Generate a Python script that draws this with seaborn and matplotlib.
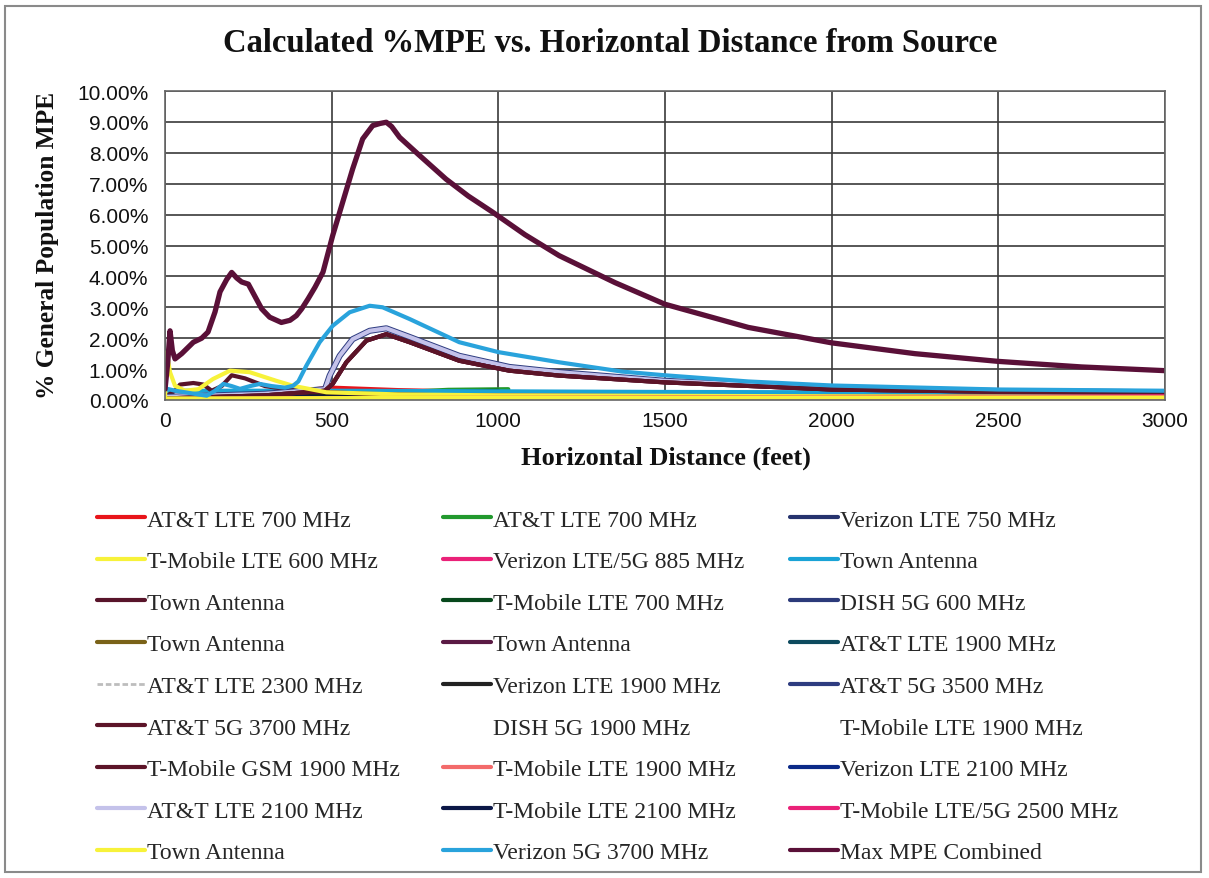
import matplotlib
matplotlib.use("Agg")
import matplotlib.pyplot as plt
import matplotlib.patches as patches
from matplotlib.lines import Line2D
from matplotlib.ticker import FuncFormatter, MultipleLocator
import seaborn as sns

# ── DATA (values in % of general population MPE) ─────────────
base_x = [0, 500, 1000, 1500, 2000, 2500, 3000]

max_x = [0, 8, 15, 22, 30, 50, 85, 110, 129, 150, 165, 185, 200, 215, 230, 250,
         270, 290, 314, 349, 375, 394, 410, 429, 450, 474, 503, 533, 563, 593,
         623, 645, 664, 680, 704, 760, 843, 910, 983, 1080, 1183, 1350, 1500,
         1750, 2000, 2250, 2500, 2750, 3000]
max_y = [0.35, 1.2, 2.24, 1.6, 1.33, 1.5, 1.87, 2.0, 2.2, 2.85, 3.5, 3.9, 4.13,
         3.95, 3.82, 3.75, 3.35, 2.95, 2.68, 2.51, 2.58, 2.73, 2.95, 3.27, 3.65,
         4.14, 5.32, 6.4, 7.48, 8.45, 8.88, 8.95, 8.99, 8.85, 8.5, 7.95, 7.15,
         6.6, 6.08, 5.35, 4.67, 3.8, 3.1, 2.35, 1.85, 1.5, 1.25, 1.07, 0.95]

vz5g_x = [0, 30, 60, 100, 125, 150, 175, 200, 225, 255, 284, 320, 360, 384, 400,
          424, 464, 503, 554, 614, 653, 734, 883, 1000, 1183, 1371, 1500, 1750,
          2000, 2500, 3000]
vz5g_y = [0.38, 0.3, 0.25, 0.18, 0.14, 0.3, 0.52, 0.45, 0.36, 0.45, 0.52, 0.45,
          0.4, 0.46, 0.6, 1.11, 1.87, 2.4, 2.84, 3.05, 3.0, 2.62, 1.87, 1.55,
          1.22, 0.92, 0.8, 0.6, 0.47, 0.34, 0.3]

att2100_x = [0, 300, 480, 494, 524, 563, 614, 664, 734, 883, 1033, 1183, 1500,
             2000, 2500, 3000]
att2100_y = [0.1, 0.2, 0.35, 0.79, 1.43, 1.97, 2.24, 2.32, 2.04, 1.43, 1.07,
             0.9, 0.62, 0.38, 0.29, 0.25]

att3700_x = [0, 300, 480, 503, 544, 604, 664, 734, 883, 1033, 1183, 1500, 2000,
             2500, 3000]
att3700_y = [0.05, 0.15, 0.3, 0.52, 1.22, 1.92, 2.13, 1.87, 1.27, 0.95, 0.79,
             0.57, 0.34, 0.27, 0.24]

tmo600_x = [0, 5, 15, 30, 60, 100, 144, 195, 254, 334, 384, 484, 700, 1000,
            2000, 3000]
tmo600_y = [0.1, 1.55, 0.9, 0.46, 0.3, 0.35, 0.68, 0.95, 0.9, 0.62, 0.46, 0.25,
            0.18, 0.15, 0.12, 0.1]

town_maroon_x = [0, 30, 45, 85, 115, 140, 170, 200, 240, 300, 400, 600, 1000, 3000]
town_maroon_y = [0.1, 0.3, 0.5, 0.55, 0.5, 0.3, 0.45, 0.8, 0.7, 0.45, 0.3, 0.2,
                 0.12, 0.05]

att700_red_x = [0, 400, 500, 700, 1000, 1500, 2000, 3000]
att700_red_y = [0.05, 0.3, 0.4, 0.32, 0.25, 0.22, 0.2, 0.2]

att700_green_x = [700, 850, 1030]
att700_green_y = [0.25, 0.33, 0.35]

tmo700_x = [700, 850, 1000]
tmo700_y = [0.2, 0.27, 0.3]

vz1900_x = [0, 150, 300, 500, 1000, 1400]
vz1900_y = [0.0, 0.1, 0.25, 0.22, 0.25, 0.25]

vz750_y = [0.05, 0.25, 0.15, 0.13, 0.12, 0.11, 0.1]
dish600_y = [0.1, 0.3, 0.16, 0.14, 0.12, 0.11, 0.1]
att1900_y = [0.08, 0.15, 0.12, 0.1, 0.1, 0.09, 0.09]
vz2100_y = [0.06, 0.12, 0.1, 0.09, 0.08, 0.08, 0.08]
tmo2100_y = [0.06, 0.12, 0.1, 0.09, 0.08, 0.08, 0.08]
tmo2500_y = [0.03, 0.06, 0.07, 0.08, 0.09, 0.1, 0.12]
vz885_y = [0.02, 0.03, 0.03, 0.04, 0.04, 0.05, 0.05]
tmo1900_y = [0.03, 0.05, 0.05, 0.05, 0.05, 0.05, 0.05]
town_olive_y = [0.04, 0.05, 0.05, 0.05, 0.05, 0.05, 0.05]
town_cyan_y = [0.3, 0.3, 0.28, 0.26, 0.25, 0.24, 0.24]
town_yellow_y = [0.05, 0.06, 0.07, 0.07, 0.08, 0.08, 0.08]
zero_y = [0, 0, 0, 0, 0, 0, 0]

# legend order, read row by row in the reference
labels = [
    "AT&T LTE 700 MHz", "AT&T LTE 700 MHz", "Verizon LTE 750 MHz",
    "T-Mobile LTE 600 MHz", "Verizon LTE/5G 885 MHz", "Town Antenna",
    "Town Antenna", "T-Mobile LTE 700 MHz", "DISH 5G 600 MHz",
    "Town Antenna", "Town Antenna", "AT&T LTE 1900 MHz",
    "AT&T LTE 2300 MHz", "Verizon LTE 1900 MHz", "AT&T 5G 3500 MHz",
    "AT&T 5G 3700 MHz", "DISH 5G 1900 MHz", "T-Mobile LTE 1900 MHz",
    "T-Mobile GSM 1900 MHz", "T-Mobile LTE 1900 MHz", "Verizon LTE 2100 MHz",
    "AT&T LTE 2100 MHz", "T-Mobile LTE 2100 MHz", "T-Mobile LTE/5G 2500 MHz",
    "Town Antenna", "Verizon 5G 3700 MHz", "Max MPE Combined",
]
colors = [
    "#e8141a", "#22992e", "#26336e",
    "#f7f23a", "#ea2178", "#1aa3d6",
    "#58142a", "#07481c", "#2b3a7a",
    "#7a6218", "#5a1a44", "#0d4a5e",
    "#d8d8d8", "#222222", "#2e3c80",
    "#5c1428", "#ffffff", "#ffffff",
    "#5c1428", "#f36b6b", "#0b2a88",
    "#c4c2ea", "#0b1746", "#ea2178",
    "#f7f23a", "#29a3dc", "#5a1038",
]
series = [
    (att700_red_x, att700_red_y), (att700_green_x, att700_green_y), (base_x, vz750_y),
    (tmo600_x, tmo600_y), (base_x, vz885_y), (base_x, town_cyan_y),
    (town_maroon_x, town_maroon_y), (tmo700_x, tmo700_y), (base_x, dish600_y),
    (base_x, town_olive_y), (att3700_x, att3700_y), (base_x, att1900_y),
    (base_x, zero_y), (vz1900_x, vz1900_y), (att2100_x, att2100_y),
    (att3700_x, att3700_y), (base_x, zero_y), (base_x, zero_y),
    (att3700_x, att3700_y), (base_x, tmo1900_y), (base_x, vz2100_y),
    (att2100_x, att2100_y), (base_x, tmo2100_y), (base_x, tmo2500_y),
    (base_x, town_yellow_y), (vz5g_x, vz5g_y), (max_x, max_y),
]
# drawing order (back to front)
draw_order = [16, 17, 12, 9, 2, 8, 11, 20, 22, 19, 13, 0, 1, 7, 5, 6, 14,
              21, 10, 15, 18, 3, 4, 23, 24, 25, 26]

# ── STYLE ────────────────────────────────────────────────────
sns.set_style("white")
plt.rcParams["font.family"] = ["Liberation Sans", "DejaVu Sans"]

fig = plt.figure(figsize=(12.09, 8.79), dpi=100)
ax = fig.add_axes([0.1365, 0.5438, 0.827, 0.3515])

for i in draw_order:
    xs, ys = series[i]
    lw = 3.8 if i == 26 else (4.4 if i == 14 else 3.0)
    sns.lineplot(x=xs, y=ys, ax=ax, color=colors[i], linewidth=lw, legend=False)

ax.set_xlim(0, 3000)
ax.set_ylim(0, 10)
ax.xaxis.set_major_locator(MultipleLocator(500))
ax.yaxis.set_major_locator(MultipleLocator(1))
ax.yaxis.set_major_formatter(FuncFormatter(lambda v, p: f"{v:.2f}%"))
ax.grid(True, color="#3a3a3a", linewidth=1.2)
ax.set_axisbelow(True)
for s in ax.spines.values():
    s.set_color("#666666")
    s.set_linewidth(1.2)
ax.tick_params(axis="y", length=0, pad=12, labelsize=15, colors="#111111")
ax.tick_params(axis="x", length=0, pad=8, labelsize=15, colors="#111111")

serif = ["Liberation Serif", "DejaVu Serif"]
fig.text(0.5046, 0.951, "Calculated %MPE vs. Horizontal Distance from Source",
         ha="center", va="center", fontsize=23.5, fontweight="bold", family=serif,
         color="#111111")
fig.text(0.551, 0.479, "Horizontal Distance (feet)", ha="center", va="center",
         fontsize=19, fontweight="bold", family=serif, color="#111111")
fig.text(0.039, 0.721, "% General Population MPE", ha="center", va="center",
         rotation=90, fontsize=18.3, fontweight="bold", family=serif, color="#111111")

# ── LEGEND (three columns) ───────────────────────────────────
col_x = [97 / 1209, 443 / 1209, 790 / 1209]
for c in range(3):
    idx = [r * 3 + c for r in range(9)]
    hs = []
    for i in idx:
        h = Line2D([], [], color=colors[i], linewidth=3)
        if i == 12:
            h = Line2D([], [], color="#bdbdbd", linewidth=2, linestyle=(0, (2, 1)))
        hs.append(h)
    fig.legend(hs, [labels[i] for i in idx], loc="upper left",
               bbox_to_anchor=(col_x[c], 1 - 510 / 879), frameon=False,
               borderpad=0, borderaxespad=0, handlelength=2.05,
               handletextpad=0.05, labelspacing=0.85,
               prop={"family": serif, "size": 17})

fig.patches.append(patches.Rectangle((5 / 1209, 6 / 879), 1196 / 1209, 866 / 879,
                                     transform=fig.transFigure, fill=False,
                                     edgecolor="#8a8a8a", linewidth=1.5))

plt.savefig("out.png", dpi=100)
